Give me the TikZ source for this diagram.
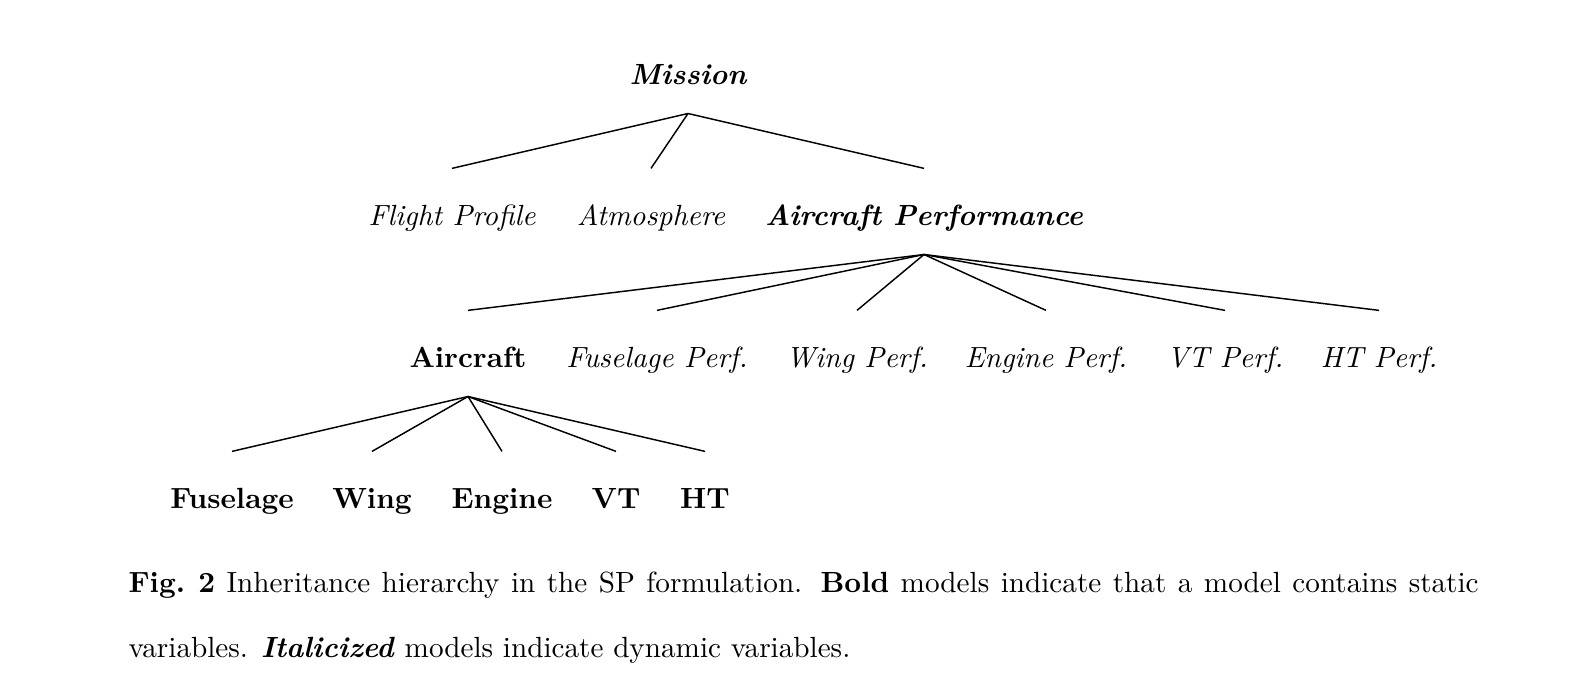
\documentclass[tikz,border=0pt]{standalone}

\begin{document}
\begin{tikzpicture}[x=0.3425pt, y=-0.3425pt,
    mdl/.style={anchor=base, inner sep=0pt, text height=19.2pt, text depth=9.9pt},
    stat/.style={mdl, font=\bfseries},
    dyn/.style={mdl, font=\itshape},
    statdyn/.style={mdl, font=\bfseries\itshape},
    every edge/.style={draw, line width=0.5pt}]
  \useasboundingbox (0,0) rectangle (1583,694);
  % top
  \node[statdyn] (ms)  at (688,84)  {Mission};
  % second row
  \node[dyn]     (fp)  at (452,225) {Flight Profile};
  \node[dyn]     (atm) at (651,225) {Atmosphere};
  \node[statdyn] (ap)  at (924,225) {Aircraft Performance};
  % third row
  \node[stat]    (ac)  at (468,367)  {Aircraft};
  \node[dyn]     (fup) at (657,367)  {Fuselage Perf.};
  \node[dyn]     (wgp) at (857,367)  {Wing Perf.};
  \node[dyn]     (enp) at (1046,367) {Engine Perf.};
  \node[dyn]     (vtp) at (1225,367) {VT Perf.};
  \node[dyn]     (htp) at (1379,367) {HT Perf.};
  % bottom row
  \node[stat]    (fus) at (232,508) {Fuselage};
  \node[stat]    (wg)  at (372,508) {Wing};
  \node[stat]    (en)  at (502,508) {Engine};
  \node[stat]    (vt)  at (616,508) {VT};
  \node[stat]    (ht)  at (705,508) {HT};
  \path (ms.south) edge (fp.north)
                   edge (atm.north)
                   edge (ap.north)
        (ap.south) edge (ac.north)
                   edge (fup.north)
                   edge (wgp.north)
                   edge (enp.north)
                   edge (vtp.north)
                   edge (htp.north)
        (ac.south) edge (fus.north)
                   edge (wg.north)
                   edge (en.north)
                   edge (vt.north)
                   edge (ht.north);
  % caption
  \node[anchor=base west, inner sep=0pt] (cap1) at (128,592)
    {\makebox[462.4pt][s]{\textbf{Fig.\ 2} Inheritance hierarchy in the SP formulation.  \textbf{Bold} models indicate that a model contains static}};
  \node[anchor=base west, inner sep=0pt] (cap2) at (128,657)
    {variables.  \textbf{\textit{Italicized}} models indicate dynamic variables.};
\end{tikzpicture}
\end{document}
